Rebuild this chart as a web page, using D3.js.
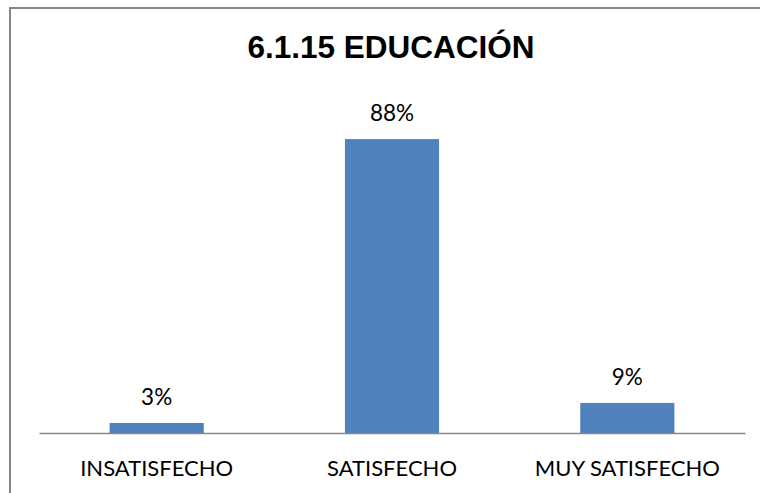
<!DOCTYPE html>
<html>
<head>
<meta charset="utf-8">
<script src="https://cdn.jsdelivr.net/npm/d3@7"></script>
<style>
  html, body { margin: 0; padding: 0; background: #fff; }
</style>
</head>
<body>
<svg id="chart"></svg>
<script>
const title = "6.1.15 EDUCACIÓN";
const categories = ["INSATISFECHO", "SATISFECHO", "MUY SATISFECHO"];
const values = [3, 88, 9];
const yMax = 100;

const W = 760, H = 493;
const margin = {top: 99, right: 15, bottom: 60, left: 39};
const width = W - margin.left - margin.right;
const height = H - margin.top - margin.bottom;

const svg = d3.select("#chart")
    .attr("width", W)
    .attr("height", H);

// outer frame (only top/left visible in the crop)
svg.append("path")
    .attr("d", "M10,493 L10,8 L760,8")
    .attr("fill", "none")
    .attr("stroke", "#868686")
    .attr("stroke-width", 2);

svg.append("text")
    .attr("x", 391)
    .attr("y", 58)
    .attr("text-anchor", "middle")
    .attr("font-family", "Liberation Sans, Arial, sans-serif")
    .attr("font-weight", "bold")
    .attr("font-size", 31.5)
    .attr("fill", "#000")
    .text(title);

const g = svg.append("g")
    .attr("transform", "translate(" + margin.left + "," + margin.top + ")");

const x = d3.scaleBand()
    .domain(categories)
    .range([0, width])
    .paddingInner(0.6)
    .paddingOuter(0.3);

const y = d3.scaleLinear()
    .domain([0, yMax])
    .range([height, 0]);

const data = categories.map((c, i) => ({label: c, value: values[i]}));

g.selectAll("rect")
    .data(data)
    .join("rect")
    .attr("x", d => x(d.label))
    .attr("y", d => y(d.value))
    .attr("width", x.bandwidth())
    .attr("height", d => height - y(d.value))
    .attr("fill", "#4F81BD");

g.selectAll(".val")
    .data(data)
    .join("text")
    .attr("class", "val")
    .attr("x", d => x(d.label) + x.bandwidth() / 2)
    .attr("y", d => y(d.value) - 18)
    .attr("text-anchor", "middle")
    .attr("font-family", "Lato, sans-serif")
    .attr("font-size", 22.5)
    .attr("fill", "#000")
    .text(d => d.value + "%");

const xAxis = g.append("g")
    .attr("transform", "translate(0," + height + ")")
    .call(d3.axisBottom(x).tickSize(0).tickPadding(27));

xAxis.select(".domain")
    .attr("stroke", "#868686")
    .attr("stroke-width", 1.5);

xAxis.selectAll("text")
    .attr("font-family", "Lato, sans-serif")
    .attr("font-size", 22)
    .attr("fill", "#000");
</script>
</body>
</html>
